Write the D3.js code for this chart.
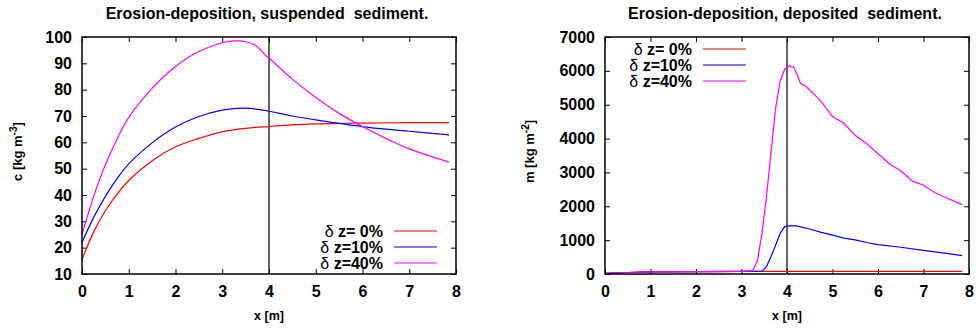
<!DOCTYPE html>
<html>
<head>
<meta charset="utf-8">
<script src="https://cdn.jsdelivr.net/npm/d3@7"></script>
<style>
  body { margin: 0; background: #fff; }
  svg { font-family: "Liberation Sans", Arial, sans-serif; }
</style>
</head>
<body>
<svg id="chart" width="976" height="329"></svg>
<script>
// series labels
const seriesNames = ["z= 0%", "z=10%", "z=40%"];
const seriesColors = ["#ff0000", "#0000ff", "#ff00ff"];

// left panel: suspended sediment c [kg m-3]
const cX0 = [0, 0.25, 0.5, 0.75, 1, 1.5, 2, 2.5, 3, 3.5, 4, 4.5, 5, 5.5, 6, 7, 7.85];
const cY0 = [15.5, 26, 34, 40.3, 45.5, 53, 58.3, 61.5, 64, 65.3, 66, 66.6, 67, 67.2, 67.3, 67.5, 67.5];
const cX10 = [0, 0.25, 0.5, 0.75, 1, 1.5, 2, 2.5, 3, 3.3, 3.6, 3.8, 4, 4.5, 5, 5.5, 6, 6.5, 7, 7.85];
const cY10 = [22, 31.5, 39.5, 46.2, 51.8, 59.8, 65.8, 69.8, 72.2, 72.9, 72.9, 72.4, 71.8, 70, 68.5, 67.2, 66, 65, 64.2, 62.8];
const cX40 = [0, 0.25, 0.5, 0.75, 1, 1.5, 2, 2.5, 3, 3.25, 3.5, 3.7, 3.8, 3.9, 4, 4.5, 5, 5.5, 6, 6.5, 7, 7.5, 7.85];
const cY40 = [25, 39.5, 51.5, 61.3, 69.5, 80.5, 88.8, 94.5, 97.8, 98.5, 98.2, 97, 95.5, 93.5, 92, 84, 77, 71, 66, 61.5, 57.5, 54.5, 52.5];

// right panel: deposited sediment m [kg m-2]
const mX0 = [0, 0.5, 1, 2, 3, 4, 5, 6, 7, 7.85];
const mY0 = [20, 45, 60, 72, 78, 80, 80, 80, 80, 80];
const mX10 = [0, 0.5, 1, 2, 3, 3.45, 3.55, 3.65, 3.75, 3.85, 3.95, 4.05, 4.2, 4.5, 4.75, 5, 5.25, 5.5, 5.75, 6, 6.5, 7, 7.5, 7.85];
const mY10 = [20, 45, 60, 72, 78, 85, 220, 520, 850, 1200, 1400, 1425, 1420, 1330, 1230, 1150, 1060, 1010, 930, 870, 790, 700, 610, 540];
const mX40 = [0, 0.5, 1, 2, 3, 3.25, 3.35, 3.45, 3.55, 3.65, 3.75, 3.85, 3.95, 4.05, 4.15, 4.22, 4.3, 4.4, 4.6, 4.75, 5, 5.25, 5.5, 5.75, 6, 6.15, 6.25, 6.5, 6.75, 7, 7.25, 7.5, 7.85];
const mY40 = [20, 45, 60, 72, 80, 100, 400, 1200, 2300, 3600, 4900, 5700, 6050, 6150, 6100, 5900, 5620, 5560, 5300, 5100, 4650, 4450, 4100, 3850, 3550, 3380, 3250, 3050, 2750, 2620, 2400, 2250, 2050];

const xTicks = [0, 1, 2, 3, 4, 5, 6, 7, 8];
const cTicks = [10, 20, 30, 40, 50, 60, 70, 80, 90, 100];
const mTicks = [0, 1000, 2000, 3000, 4000, 5000, 6000, 7000];

const svg = d3.select("#chart");

function panel(o) {
  const x = d3.scaleLinear().domain([0, 8]).range([o.left, o.right]);
  const y = d3.scaleLinear().domain(o.yDomain).range([o.bottom, o.top]);
  const g = svg.append("g");

  // axes with inward ticks, mirrored on top/right
  g.append("g").attr("transform", `translate(0,${o.bottom})`)
    .call(d3.axisBottom(x).tickValues(xTicks).tickFormat(d3.format("d")).tickSizeInner(-5).tickSizeOuter(0).tickPadding(12))
    .call(a => a.select(".domain").remove());
  g.append("g").attr("transform", `translate(0,${o.top})`)
    .call(d3.axisTop(x).tickValues(xTicks).tickSizeInner(-5).tickSizeOuter(0).tickFormat(""))
    .call(a => a.select(".domain").remove());
  g.append("g").attr("transform", `translate(${o.left},0)`)
    .call(d3.axisLeft(y).tickValues(o.yTicks).tickFormat(d3.format("d")).tickSizeInner(-5).tickSizeOuter(0).tickPadding(10))
    .call(a => a.select(".domain").remove());
  g.append("g").attr("transform", `translate(${o.right},0)`)
    .call(d3.axisRight(y).tickValues(o.yTicks).tickSizeInner(-5).tickSizeOuter(0).tickFormat(""))
    .call(a => a.select(".domain").remove());
  g.selectAll(".tick line").attr("stroke", "#000");
  g.selectAll(".tick text")
    .attr("fill", "#000")
    .style("font-size", "16px")
    .style("font-weight", "bold");

  // vertical marker at x = 4
  g.append("line")
    .attr("x1", x(4)).attr("x2", x(4))
    .attr("y1", o.top).attr("y2", o.bottom)
    .attr("stroke", "#111").attr("stroke-width", 1.3);

  const line = d3.line().x(d => x(d[0])).y(d => y(d[1])).curve(o.curve);
  o.series.forEach((s, i) => {
    g.append("path")
      .datum(d3.zip(s[0], s[1]))
      .attr("d", line)
      .attr("fill", "none")
      .attr("stroke", seriesColors[i])
      .attr("stroke-width", 1.2);
  });

  // frame
  g.append("rect")
    .attr("x", o.left).attr("y", o.top)
    .attr("width", o.right - o.left).attr("height", o.bottom - o.top)
    .attr("fill", "none").attr("stroke", "#000").attr("stroke-width", 1.5);

  // title
  g.append("text")
    .attr("x", o.titleX).attr("y", 19)
    .attr("text-anchor", "middle")
    .attr("xml:space", "preserve")
    .style("white-space", "pre")
    .style("font-weight", "bold").style("font-size", "16px")
    .text(o.title);

  // x label
  g.append("text")
    .attr("x", x(4)).attr("y", 320)
    .attr("text-anchor", "middle")
    .style("font-weight", "bold").style("font-size", "12.5px")
    .text("x [m]");

  // y label
  const yl = g.append("text")
    .attr("transform", `translate(${o.yLabelX},${(o.top + o.bottom) / 2 - 4}) rotate(-90)`)
    .attr("text-anchor", "middle")
    .style("font-weight", "bold").style("font-size", "13px");
  yl.append("tspan").text(o.yLabel[0]);
  yl.append("tspan").attr("dy", -5).style("font-size", "10px").text(o.yLabel[1]);
  yl.append("tspan").attr("dy", 5).text("]");

  // legend
  seriesNames.forEach((n, i) => {
    const ly = o.legY + i * 16;
    const t = g.append("text")
      .attr("x", o.legX).attr("y", ly + 6)
      .attr("text-anchor", "end")
      .style("font-size", "16px");
    t.append("tspan").text("δ ");
    t.append("tspan").style("font-weight", "bold").text(n);
    g.append("line")
      .attr("x1", o.legX + 11).attr("x2", o.legX + 54)
      .attr("y1", ly).attr("y2", ly)
      .attr("stroke", seriesColors[i]).attr("stroke-width", 1.2);
  });
}

panel({
  left: 82, right: 456, top: 37, bottom: 274,
  yDomain: [10, 100], yTicks: cTicks,
  series: [[cX0, cY0], [cX10, cY10], [cX40, cY40]],
  curve: d3.curveCatmullRom.alpha(0.5),
  title: "Erosion-deposition, suspended  sediment.", titleX: 267,
  yLabel: ["c [kg m", "-3"], yLabelX: 22,
  legX: 383, legY: 231
});

panel({
  left: 605, right: 969, top: 37, bottom: 274,
  yDomain: [0, 7000], yTicks: mTicks,
  series: [[mX0, mY0], [mX10, mY10], [mX40, mY40]],
  curve: d3.curveLinear,
  title: "Erosion-deposition, deposited  sediment.", titleX: 785,
  yLabel: ["m [kg m", "-2"], yLabelX: 534,
  legX: 692, legY: 49
});
</script>
</body>
</html>
